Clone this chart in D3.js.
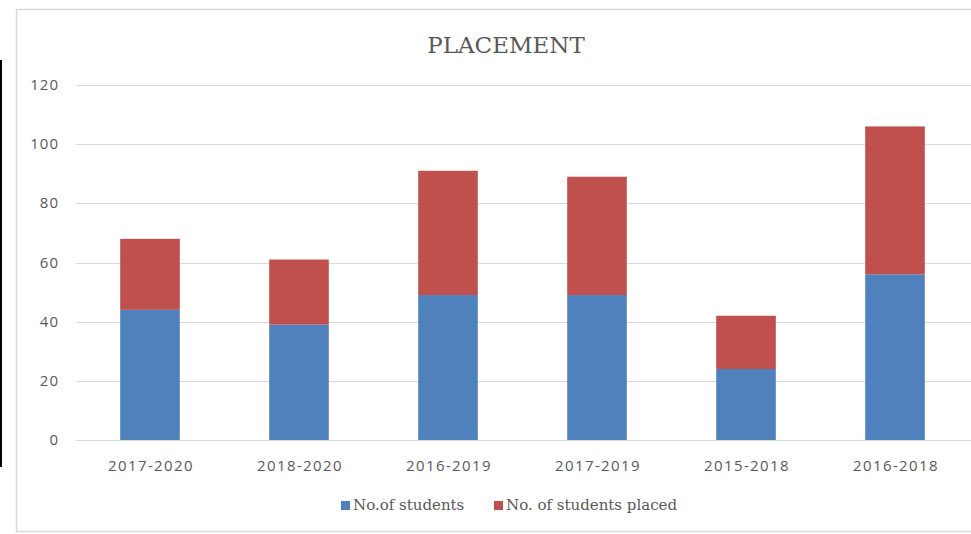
<!DOCTYPE html>
<html>
<head>
<meta charset="utf-8">
<script src="https://d3js.org/d3.v7.min.js"></script>
<style>
body { margin: 0; background: #fff; }
</style>
</head>
<body>
<svg id="chart" width="971" height="534"></svg>
<script>
var categories = ["2017-2020", "2018-2020", "2016-2019", "2017-2019", "2015-2018", "2016-2018"];
var students = [44, 39, 49, 49, 24, 56];
var placed = [24, 22, 42, 40, 18, 50];
var seriesNames = ["No.of students", "No. of students placed"];
var seriesColors = ["#4f81bd", "#c0504d"];
var yTicks = [0, 20, 40, 60, 80, 100, 120];

var svg = d3.select("#chart");

// left black edge and chart frame
svg.append("rect").attr("x", 0).attr("y", 60).attr("width", 2).attr("height", 407).attr("fill", "#000");
svg.append("rect")
    .attr("x", 16.5).attr("y", 9.5)
    .attr("width", 970).attr("height", 522)
    .attr("fill", "#fff")
    .attr("stroke", "#d9d9d9")
    .attr("stroke-width", 1.5);

var x = d3.scaleBand().domain(categories).range([75.5, 969.5]).paddingInner(0.6).paddingOuter(0.3);
var y = d3.scaleLinear().domain([0, 120]).range([440, 85]);

// gridlines
svg.append("g").selectAll("line").data(yTicks).enter().append("line")
    .attr("x1", 76).attr("x2", 971)
    .attr("y1", function(d) { return Math.round(y(d)) + 0.5; })
    .attr("y2", function(d) { return Math.round(y(d)) + 0.5; })
    .attr("stroke", "#d9d9d9")
    .attr("stroke-width", 1);

// y labels
svg.append("g").selectAll("text").data(yTicks).enter().append("text")
    .attr("x", 59).attr("y", function(d) { return y(d) + 5; })
    .attr("text-anchor", "end")
    .attr("font-family", "Open Sans, DejaVu Sans, sans-serif")
    .attr("font-size", 15)
    .attr("letter-spacing", 1)
    .attr("fill", "#595959")
    .text(function(d) { return d; });

var rows = categories.map(function(c, i) { return { cat: c, a: students[i], b: placed[i] }; });
var stack = d3.stack().keys(["a", "b"])(rows);

svg.append("g").selectAll("g").data(stack).enter().append("g")
    .attr("fill", function(d, i) { return seriesColors[i]; })
    .selectAll("rect").data(function(d) { return d; }).enter().append("rect")
    .attr("x", function(d) { return x(d.data.cat); })
    .attr("width", x.bandwidth())
    .attr("y", function(d) { return y(d[1]); })
    .attr("height", function(d) { return y(d[0]) - y(d[1]); });

// category labels
svg.append("g").selectAll("text").data(categories).enter().append("text")
    .attr("x", function(d) { return x(d) + x.bandwidth() / 2 + 1; })
    .attr("y", 471)
    .attr("text-anchor", "middle")
    .attr("font-family", "Open Sans, DejaVu Sans, sans-serif")
    .attr("font-size", 15)
    .attr("letter-spacing", 1.4)
    .attr("fill", "#595959")
    .text(function(d) { return d; });

// title
svg.append("text")
    .attr("x", 506).attr("y", 53)
    .attr("text-anchor", "middle")
    .attr("font-family", "DejaVu Serif, serif")
    .attr("font-size", 23)
    .attr("fill", "#595959")
    .text("PLACEMENT");

// legend
var legendX = [341, 494];
var legend = svg.append("g").selectAll("g").data(seriesNames).enter().append("g")
    .attr("transform", function(d, i) { return "translate(" + legendX[i] + ",510)"; });
legend.append("rect")
    .attr("x", 0).attr("y", -9).attr("width", 9).attr("height", 9)
    .attr("fill", function(d, i) { return seriesColors[i]; });
legend.append("text")
    .attr("x", 12).attr("y", 0)
    .attr("font-family", "DejaVu Serif, serif")
    .attr("font-size", 15)
    .attr("fill", "#595959")
    .text(function(d) { return d; });
</script>
</body>
</html>
